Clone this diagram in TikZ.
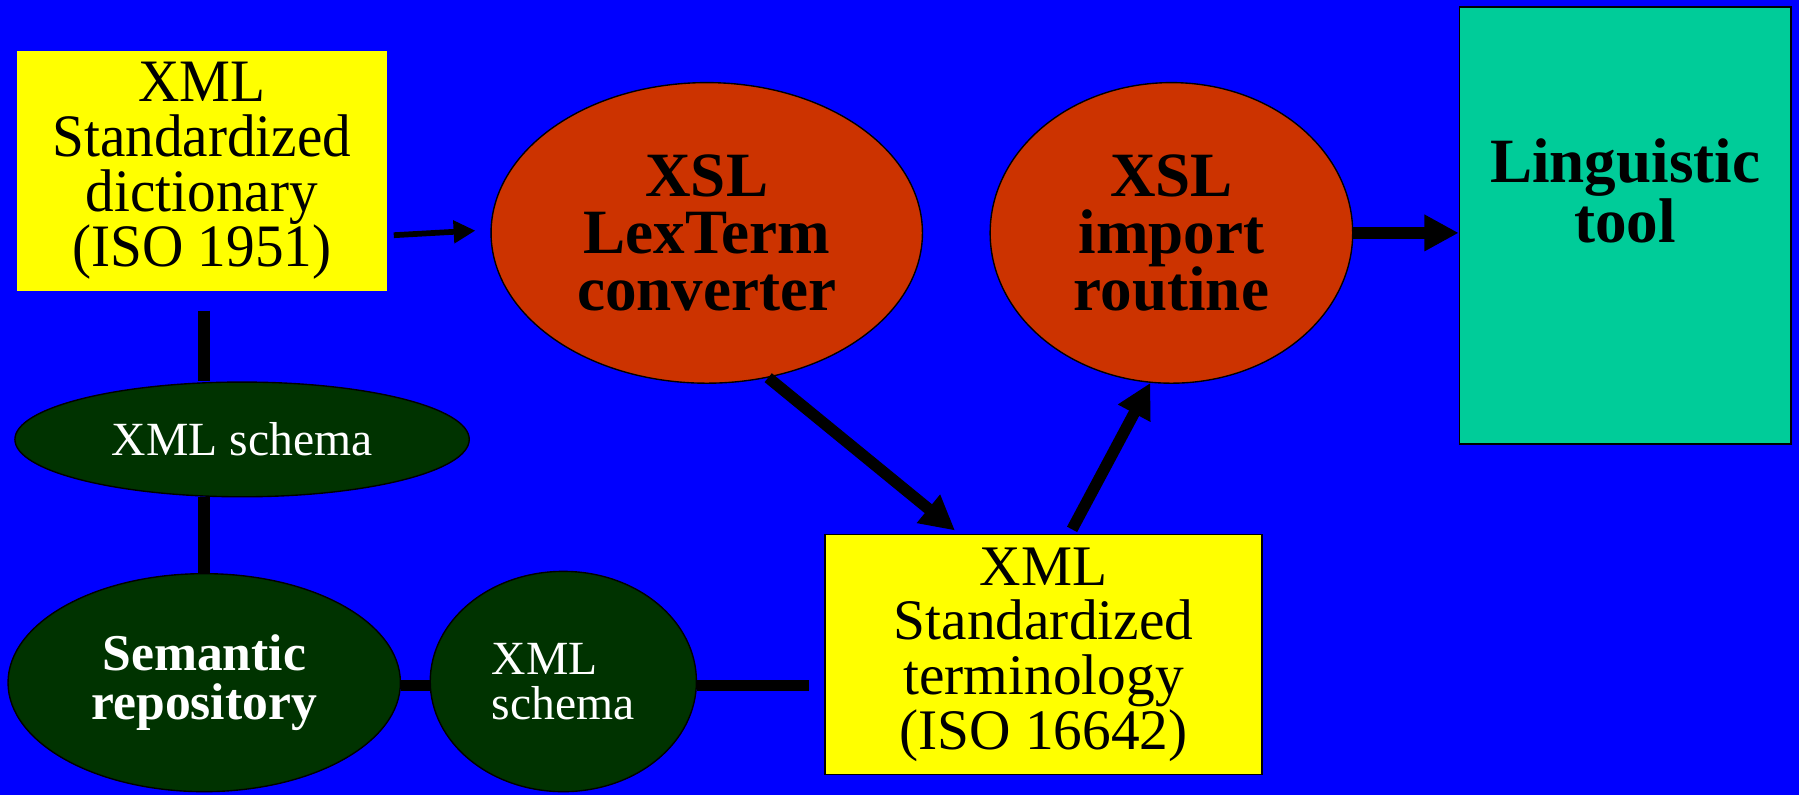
\documentclass[tikz,border=0pt]{standalone}
\usepackage{fontspec}
\setmainfont{Liberation Serif}
\newfontfamily\tallserif[FakeStretch=0.95]{Liberation Serif}
\usetikzlibrary{shapes.geometric,arrows.meta,calc}
\definecolor{bgblue}{HTML}{0000FF}
\definecolor{boxyellow}{HTML}{FFFF00}
\definecolor{procred}{HTML}{CC3300}
\definecolor{tooltea}{HTML}{00CC99}
\definecolor{darkgreen}{HTML}{003300}
\pgfdeclarelayer{background}
\pgfsetlayers{background,main}
\tikzset{
  ybox/.style={rectangle, fill=boxyellow, inner sep=0pt, align=center,
    font=\fontsize{50}{47.7}\selectfont},
  redell/.style={ellipse, fill=procred, draw=black, line width=1.2pt, inner sep=0pt,
    align=center, font=\fontsize{55}{50}\selectfont\bfseries},
  greenell/.style={ellipse, fill=darkgreen, draw=black, line width=1.2pt, inner sep=0pt,
    text=white},
  thinarrow/.style={line width=5pt, -{Triangle[length=19pt,width=19pt]}},
  thickarrow/.style={line width=10pt, -{Triangle[length=30pt,width=30pt]}},
  link/.style={line width=10pt}
}
\begin{document}
\begin{tikzpicture}[x=1pt,y=-1pt]
\begin{pgfonlayer}{background}
\fill[bgblue] (0,0) rectangle (1568,693);
\end{pgfonlayer}
\useasboundingbox (0,0) rectangle (1568,693);

\node[ybox, minimum width=322pt, minimum height=209pt,
  font=\tallserif\fontsize{52.5}{47.9}\selectfont] (box1) at (176,149)
  {XML\\Standardized\\dictionary\\(ISO 1951)};
\node[redell, minimum width=376pt, minimum height=262pt] (e1) at (616,203)
  {XSL\\LexTerm\\converter};
\node[redell, minimum width=316pt, minimum height=262pt] (e2) at (1021,203)
  {XSL\\import\\routine};
\node[rectangle, fill=tooltea, draw=black, line width=1.2pt, inner sep=0pt,
  minimum width=289pt, minimum height=381pt,
  label={[font=\fontsize{55}{52}\selectfont\bfseries, align=center, yshift=30pt]center:Linguistic\\tool}]
  (tool) at (1416.5,196.5) {};
\node[greenell, minimum width=396pt, minimum height=100pt,
  font=\fontsize{41.5}{39}\selectfont] (g1) at (211,383) {XML schema};
\node[greenell, minimum width=342pt, minimum height=190pt, align=center,
  font=\fontsize{45}{42}\selectfont\bfseries] (g2) at (178,595) {Semantic\\repository};
\node[greenell, minimum width=232pt, minimum height=192pt, align=left,
  font=\fontsize{41.5}{39}\selectfont] (g3) at (491,594) {XML\\schema};
\node[ybox, draw=black, line width=1.2pt, minimum width=381pt, minimum height=209pt]
  (box2) at (909.5,570.5) {XML\\Standardized\\terminology\\(ISO 16642)};

\coordinate (a1s) at ($(box1.east)+(6,56)$);
\coordinate (a1e) at ($(e1.west)+(-13,-2)$);
\coordinate (b2in) at ($(box2.north west)+(114,-3)$);
\coordinate (b2out) at ($(box2.north west)+(216,-4)$);
\coordinate (v1) at ($(box1.south)+(2,17)$);
\coordinate (b2gap) at ($(box2.west)+(-13,27)$);

\begin{pgfonlayer}{background}
\draw[link] (v1) -- (v1 |- g1.north);
\draw[link] (v1 |- g1.south) -- (g2.north);
\draw[link] (g2.east |- b2gap) -- (g3.west |- b2gap);
\draw[link] (g3.east |- b2gap) -- (b2gap);
\end{pgfonlayer}

\draw[thinarrow] (a1s) -- (a1e);
\draw[thickarrow] (e1.-67) -- (b2in);
\draw[thickarrow] (b2out) -- (e2.-98);
\draw[thickarrow] (e2.east) -- (e2.east -| tool.west);
\end{tikzpicture}
\end{document}
